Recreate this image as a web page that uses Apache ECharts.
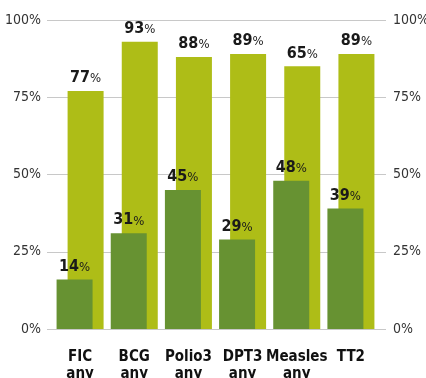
<!DOCTYPE html>
<html>
<head>
<meta charset="utf-8">
<script src="https://cdn.jsdelivr.net/npm/echarts@6/dist/echarts.min.js"></script>
<style>
  html, body { margin: 0; padding: 0; background: #fff; }
  #chart { width: 426px; height: 378px; }
</style>
</head>
<body>
<div id="chart"></div>
<script>
const categories = ['FIC\nany', 'BCG\nany', 'Polio3\nany', 'DPT3\nany', 'Measles\nany', 'TT2'];
// bar heights
const anyValues = [77, 93, 88, 89, 85, 89];
const validValues = [16, 31, 45, 29, 48, 39];
// label texts as printed on the picture
const anyLabels = [77, 93, 88, 89, 65, 89];
const validLabels = [14, 31, 45, 29, 48, 39];
const yTicks = [0, 25, 50, 75, 100];

const FONT = '"Liberation Sans Narrow", "DejaVu Sans Condensed", sans-serif';

const chart = echarts.init(document.getElementById('chart'));

const pctLabel = (labels) => ({
  show: true,
  position: 'top',
  distance: 5,
  formatter: p => '{n|' + labels[p.dataIndex] + '}{p|%}',
  rich: {
    n: { fontFamily: FONT, fontSize: 16, fontWeight: 'bold', color: '#1a1a1a' },
    p: { fontFamily: FONT, fontSize: 13, color: '#1a1a1a', padding: [2, 0, 0, 0] }
  }
});

const tickLabel = {
  fontFamily: FONT,
  fontSize: 14,
  color: '#333',
  formatter: v => v + '%'
};

chart.setOption({
  animation: false,
  grid: [
    { left: 47, right: 40, top: 20, bottom: 49, outerBoundsMode: 'none' },
    { left: 53, width: 325, top: 20, bottom: 49, outerBoundsMode: 'none' }
  ],
  xAxis: [
    { gridIndex: 0, type: 'value', show: false, min: 0, max: 1 },
    {
      gridIndex: 1,
      type: 'category',
      data: categories,
      axisLine: { show: false },
      axisTick: { show: false },
      axisLabel: {
        interval: 0,
        margin: 20,
        fontFamily: FONT,
        fontSize: 15,
        fontWeight: 'bold',
        lineHeight: 17,
        color: '#111'
      }
    }
  ],
  yAxis: [
    {
      gridIndex: 0,
      type: 'value',
      min: yTicks[0],
      max: yTicks[yTicks.length - 1],
      interval: 25,
      axisLine: { show: false },
      axisTick: { show: false },
      splitLine: { lineStyle: { color: '#c8c8c8', width: 1 } },
      axisLabel: Object.assign({ margin: 6 }, tickLabel)
    },
    {
      gridIndex: 0,
      type: 'value',
      position: 'right',
      min: yTicks[0],
      max: yTicks[yTicks.length - 1],
      interval: 25,
      axisLine: { show: false },
      axisTick: { show: false },
      splitLine: { show: false },
      axisLabel: Object.assign({ margin: 7 }, tickLabel)
    },
    {
      gridIndex: 1,
      type: 'value',
      min: 0,
      max: 100,
      show: false
    }
  ],
  series: [
    {
      name: 'valid',
      type: 'bar',
      xAxisIndex: 1,
      yAxisIndex: 2,
      data: validValues,
      barWidth: 36,
      barGap: '-69.4%',
      z: 4,
      itemStyle: { color: '#679232' },
      label: pctLabel(validLabels)
    },
    {
      name: 'any',
      type: 'bar',
      xAxisIndex: 1,
      yAxisIndex: 2,
      data: anyValues,
      barWidth: 36,
      z: 3,
      itemStyle: { color: '#aebd17' },
      label: pctLabel(anyLabels)
    }
  ]
});
</script>
</body>
</html>
